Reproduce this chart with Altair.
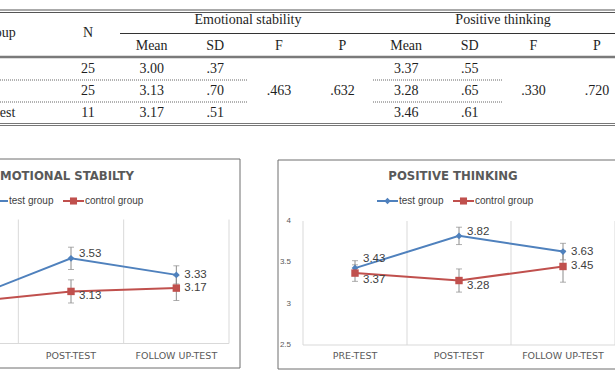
import altair as alt
import pandas as pd

# ---------------- table values ----------------
groups = ["Pre-test", "Post-test", "Follow up-test"]
n_counts = ["25", "25", "11"]
es_mean = ["3.00", "3.13", "3.17"]
es_sd = [".37", ".70", ".51"]
es_f, es_p = ".463", ".632"
pt_mean = ["3.37", "3.28", "3.46"]
pt_sd = [".55", ".65", ".61"]
pt_f, pt_p = ".330", ".720"

table_cols = ["N", "ES Mean", "ES SD", "ES F", "ES P", "PT Mean", "PT SD", "PT F", "PT P"]
sub_headers = ["Mean", "SD", "F", "P", "Mean", "SD", "F", "P"]

# ---------------- chart values ----------------
phases = ["PRE-TEST", "POST-TEST", "FOLLOW UP-TEST"]
series = ["test group", "control group"]
es_test = [3.03, 3.53, 3.33]
es_test_err = [0.10, 0.135, 0.11]
es_ctrl = [3.00, 3.13, 3.17]
es_ctrl_err = [0.10, 0.14, 0.15]
pt_test = [3.43, 3.82, 3.63]
pt_test_err = [0.09, 0.105, 0.10]
pt_ctrl = [3.37, 3.28, 3.45]
pt_ctrl_err = [0.10, 0.14, 0.19]
y_ticks = [2.5, 3.0, 3.5, 4.0]
y_tick_text = ["2.5", "3", "3.5", "4"]

SERIF = "Liberation Serif"
SANS = "Liberation Sans"
INK = "#1e1e1e"
BLUE = "#4f81bd"
RED = "#c0504d"
GRID = "#d9d9d9"
ERR = "#8c8c8c"
AXIS_TXT = "#595959"
LABEL_TXT = "#404040"

one = pd.DataFrame({"k": [0]})


def hrule(x0, x1, y, color, width=1.0, dash=None):
    kw = dict(color=color, strokeWidth=width)
    if dash:
        kw["strokeDash"] = dash
    return alt.Chart(one).mark_rule(**kw).encode(
        x=alt.value(x0), x2=alt.value(x1), y=alt.value(y))


# ---------------- table ----------------
tx = alt.Scale(type="point", domain=table_cols, range=[88, 597], padding=0)
ty = alt.Scale(type="point", domain=groups, range=[69, 113], padding=0)

cells = []
for i, g in enumerate(groups):
    for col, vals in [("N", n_counts), ("ES Mean", es_mean), ("ES SD", es_sd),
                      ("PT Mean", pt_mean), ("PT SD", pt_sd)]:
        cells.append({"group": g, "col": col, "text": vals[i]})
for col, val in [("ES F", es_f), ("ES P", es_p), ("PT F", pt_f), ("PT P", pt_p)]:
    cells.append({"group": groups[1], "col": col, "text": val})
cell_df = pd.DataFrame(cells)

txt = dict(font=SERIF, fontSize=14, color=INK)

body = alt.Chart(cell_df).mark_text(**txt).encode(
    x=alt.X("col:N", scale=tx, axis=None),
    y=alt.Y("group:N", scale=ty, axis=None),
    text="text:N",
)
sub_df = pd.DataFrame({"col": table_cols[1:], "text": sub_headers})
sub = alt.Chart(sub_df).mark_text(**txt).encode(
    x=alt.X("col:N", scale=tx, axis=None), y=alt.value(46), text="text:N")
n_head = alt.Chart(pd.DataFrame({"col": ["N"], "text": ["N"]})).mark_text(**txt).encode(
    x=alt.X("col:N", scale=tx, axis=None), y=alt.value(33), text="text:N")
group_labels = alt.Chart(pd.DataFrame({"group": groups})).mark_text(align="left", **txt).encode(
    x=alt.value(-66), y=alt.Y("group:N", scale=ty, axis=None), text="group:N")
group_head = alt.Chart(pd.DataFrame({"t": ["Group"]})).mark_text(align="left", **txt).encode(
    x=alt.value(-20), y=alt.value(33), text="t:N")
span_heads = [
    alt.Chart(pd.DataFrame({"t": [t]})).mark_text(**txt).encode(
        x=alt.value(cx), y=alt.value(20), text="t:N")
    for t, cx in [("Emotional  stability", 248), ("Positive  thinking", 503)]
]

table_lines = [
    hrule(0, 615, 10, "#555555"),
    hrule(0, 615, 12.5, "#555555"),
    hrule(120, 615, 33.5, "#333333", 1.2),
    hrule(0, 615, 57, "#7a7a7a", 2.5),
    hrule(0, 247, 80, "#666666", 1, [1, 1]),
    hrule(0, 247, 102, "#666666", 1, [1, 1]),
    hrule(373, 503, 80, "#666666", 1, [1, 1]),
    hrule(373, 503, 102, "#666666", 1, [1, 1]),
    hrule(0, 615, 123.5, "#777777", 1.2),
    hrule(0, 615, 125.5, "#777777", 1.2),
]

table = alt.layer(*table_lines, body, sub, n_head, group_labels, group_head, *span_heads)


# ---------------- line charts ----------------
def panel(title, test, test_err, ctrl, ctrl_err, x_range, y_range, cx, frame, show_y,
          label_dy):
    rows = []
    for s, vals, errs in [(series[0], test, test_err), (series[1], ctrl, ctrl_err)]:
        for p, v, e in zip(phases, vals, errs):
            rows.append({"phase": p, "series": s, "mean": v,
                         "lo": round(v - e, 3), "hi": round(v + e, 3)})
    df = pd.DataFrame(rows)

    xs = alt.Scale(type="band", domain=phases, range=x_range, paddingInner=0, paddingOuter=0)
    ys = alt.Scale(domain=[2.5, 4], range=y_range, zero=False, nice=False)
    X = alt.X("phase:N", scale=xs, axis=None)
    Y = alt.Y("mean:Q", scale=ys, axis=None)
    col = alt.Color("series:N", scale=alt.Scale(domain=series, range=[BLUE, RED]), legend=None)
    base = alt.Chart(df)
    ph_df = pd.DataFrame({"phase": phases})

    layers = []
    # chart frame
    layers.append(alt.Chart(one).mark_rect(fillOpacity=0, stroke="#6e6e6e", strokeWidth=1).encode(
        x=alt.value(frame[0]), x2=alt.value(frame[1]), y=alt.value(frame[2]), y2=alt.value(frame[3])))
    # vertical gridlines at category boundaries
    layers.append(alt.Chart(ph_df).mark_rule(color=GRID).encode(
        x=alt.X("phase:N", scale=xs, axis=None, bandPosition=0),
        y=alt.YDatum(4.0, type="quantitative", scale=ys, axis=None),
        y2=alt.Y2Datum(2.5)))
    layers.append(alt.Chart(ph_df.tail(1)).mark_rule(color=GRID).encode(
        x=alt.X("phase:N", scale=xs, axis=None, bandPosition=1),
        y=alt.YDatum(4.0, type="quantitative", scale=ys, axis=None),
        y2=alt.Y2Datum(2.5)))
    # category axis baseline
    layers.append(alt.Chart(one).mark_rule(color=GRID).encode(
        x=alt.value(max(x_range[0], 0)), x2=alt.value(x_range[1]),
        y=alt.YDatum(2.5, type="quantitative", scale=ys, axis=None)))
    # category labels
    layers.append(alt.Chart(ph_df).mark_text(font="DejaVu Sans", fontSize=9.5, color=AXIS_TXT).encode(
        x=X, y=alt.value(356), text="phase:N"))
    if show_y:
        tick_df = pd.DataFrame({"v": y_ticks, "lbl": y_tick_text})
        layers.append(alt.Chart(tick_df).mark_text(font=SANS, fontSize=8, color=AXIS_TXT, align="right").encode(
            x=alt.value(291), y=alt.Y("v:Q", scale=ys, axis=None), text="lbl:N"))
    # error bars with caps
    layers.append(base.mark_rule(color=ERR, strokeWidth=1).encode(
        x=X, y=alt.Y("lo:Q", scale=ys, axis=None), y2="hi:Q"))
    for f in ["lo", "hi"]:
        layers.append(base.mark_tick(color=ERR, size=6, thickness=1).encode(
            x=X, y=alt.Y(f"{f}:Q", scale=ys, axis=None)))
    # series lines and markers
    layers.append(base.mark_line(strokeWidth=2).encode(x=X, y=Y, color=col))
    layers.append(base.transform_filter(alt.datum.series == series[0]).mark_point(
        filled=True, opacity=1, shape="diamond", size=45, color=BLUE).encode(x=X, y=Y))
    layers.append(base.transform_filter(alt.datum.series == series[1]).mark_point(
        filled=True, opacity=1, shape="square", size=55, color=RED).encode(x=X, y=Y))
    # value labels
    for s in series:
        for p, dy in zip(phases, label_dy[s]):
            layers.append(base.transform_filter(
                (alt.datum.series == s) & (alt.datum.phase == p)
            ).mark_text(font=SANS, fontSize=11.5, color=LABEL_TXT, align="left", dx=8, dy=dy).encode(
                x=X, y=Y, text=alt.Text("mean:Q", format=".2f")))
    # title
    layers.append(alt.Chart(pd.DataFrame({"t": [title]})).mark_text(
        font="DejaVu Sans", fontWeight="bold", fontSize=11.7, color=AXIS_TXT).encode(
        x=alt.value(cx), y=alt.value(176), text="t:N"))
    # legend
    ly = 201
    for s, color, shape, size, off in [(series[0], BLUE, "diamond", 40, -76),
                                       (series[1], RED, "square", 50, 0)]:
        layers.append(alt.Chart(one).mark_rule(color=color, strokeWidth=2).encode(
            x=alt.value(cx + off), x2=alt.value(cx + off + 21), y=alt.value(ly)))
        layers.append(alt.Chart(one).mark_point(filled=True, opacity=1, shape=shape, size=size, color=color).encode(
            x=alt.value(cx + off + 10.5), y=alt.value(ly)))
        layers.append(alt.Chart(pd.DataFrame({"t": [s]})).mark_text(
            font=SANS, fontSize=10, color=LABEL_TXT, align="left").encode(
            x=alt.value(cx + off + 22), y=alt.value(ly), text="t:N"))
    return alt.layer(*layers)


left = panel("EMOTIONAL STABILTY", es_test, es_test_err, es_ctrl, es_ctrl_err,
             [-87, 229], [343.5, 219.5], 63, (-10, 240, 159, 368), False,
             {"test group": [-5, -4, 0], "control group": [6, 5, 0]})
right = panel("POSITIVE THINKING", pt_test, pt_test_err, pt_ctrl, pt_ctrl_err,
              [303, 615], [345, 221], 453, (278, 640, 160, 369), True,
              {"test group": [-9, -4, 0], "control group": [7, 5, 0]})

chart = alt.layer(table, left, right).resolve_scale(
    x="independent", y="independent", color="independent"
).properties(
    width=615, height=375, autosize=alt.AutoSizeParams(type="none"), padding=0,
    background="white",
).configure_view(stroke=None)

chart.save("out.html", embed_options={"renderer": "svg", "actions": False})
